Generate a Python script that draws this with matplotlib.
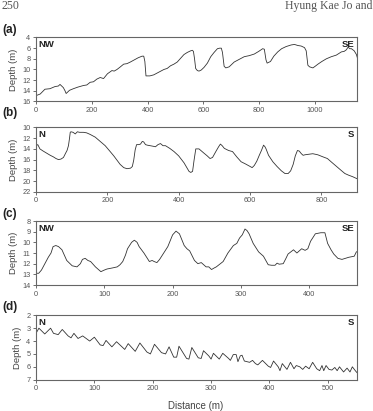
import matplotlib
matplotlib.use('Agg')
import matplotlib.pyplot as plt

# panel (a) profile, NW -> SE
xa = [0, 15, 32, 50, 68, 80, 86, 92, 98, 104, 108, 120, 134, 150, 170, 182, 194, 206, 218, 230, 242,
      256, 272, 280, 290, 300, 314, 326, 338, 352, 366, 380, 386, 390, 394, 408, 422, 440, 458, 470,
      482, 494, 506, 518, 530, 542, 554, 560, 564, 568, 572, 578, 584, 592, 602, 614, 626, 638, 650,
      658, 664, 668, 674, 680, 692, 710, 728, 746, 764, 782, 798, 812, 818, 824, 828, 840, 852, 866,
      880, 896, 914, 926, 938, 950, 962, 968, 974, 980, 992, 1000, 1010, 1024, 1040, 1058, 1076,
      1094, 1104, 1112, 1118, 1124, 1130, 1140, 1148, 1154]
ya = [14.9, 14.6, 13.7, 13.6, 13.2, 13.1, 12.8, 13.1, 13.4, 14.0, 14.5, 13.9, 13.6, 13.3, 13.0, 12.9,
      12.4, 12.3, 11.8, 11.5, 11.7, 10.8, 10.2, 10.3, 10.0, 9.6, 9.0, 8.9, 8.6, 8.2, 7.8, 7.5, 7.5,
      8.5, 11.2, 11.2, 11.0, 10.5, 10.0, 9.8, 9.3, 9.0, 8.6, 7.9, 7.2, 6.8, 6.5, 6.4, 6.6, 8.0, 9.8,
      10.2, 10.3, 10.1, 9.6, 8.8, 7.6, 6.8, 6.1, 6.0, 6.0, 6.8, 9.4, 9.7, 9.5, 8.6, 8.1, 7.6, 7.4,
      7.1, 6.6, 6.1, 6.2, 8.2, 8.8, 8.5, 7.5, 6.7, 6.1, 5.7, 5.4, 5.3, 5.5, 5.6, 5.9, 6.5, 9.2, 9.5,
      9.7, 9.4, 9.0, 8.5, 8.0, 7.6, 7.3, 6.7, 6.6, 6.3, 5.8, 6.1, 6.1, 6.5, 7.2, 8.3]

# panel (b) profile, N -> S
xb = [0, 5, 11, 20, 30, 40, 49, 56, 63, 70, 77, 83, 87, 91, 94, 96, 98, 104, 110, 116, 122, 133, 142,
      152, 166, 180, 194, 208, 218, 227, 236, 246, 255, 265, 270, 274, 278, 282, 288, 293, 298, 302,
      307, 312, 320, 328, 335, 342, 349, 356, 363, 375, 387, 400, 415, 422, 429, 434, 439, 443, 448,
      457, 464, 471, 480, 488, 495, 505, 512, 517, 522, 528, 540, 551, 563, 575, 587, 598, 606, 612,
      619, 626, 632, 638, 642, 645, 652, 664, 676, 688, 698, 707, 714, 721, 727, 733, 738, 744, 749,
      754, 765, 776, 790, 805, 817, 829, 843, 857, 866, 876, 888, 901]
yb = [13.4, 13.2, 14.0, 14.4, 14.8, 15.2, 15.5, 15.8, 16.0, 15.9, 15.6, 14.8, 14.3, 13.4, 12.0, 10.9,
      10.8, 10.9, 11.2, 10.8, 10.9, 10.9, 11.0, 11.3, 11.8, 12.6, 13.4, 14.5, 15.3, 16.1, 16.9, 17.5,
      17.7, 17.6, 17.3, 16.1, 14.2, 13.2, 13.2, 13.1, 12.6, 12.7, 13.2, 13.3, 13.4, 13.5, 13.6, 13.2,
      13.0, 13.4, 13.4, 13.9, 14.5, 15.3, 16.6, 17.4, 18.2, 18.4, 18.2, 16.2, 14.0, 14.0, 14.4, 14.8,
      15.3, 15.8, 15.6, 14.4, 13.6, 13.1, 13.4, 13.9, 14.3, 14.5, 15.5, 16.4, 16.8, 17.2, 17.5, 17.1,
      16.3, 15.2, 14.3, 13.3, 13.6, 14.0, 15.2, 16.4, 17.3, 18.1, 18.6, 18.6, 18.1, 16.9, 15.3, 14.3,
      14.4, 14.9, 15.2, 15.1, 15.0, 14.9, 15.1, 15.5, 15.8, 16.5, 17.3, 18.1, 18.6, 18.9, 19.2, 19.6]

# panel (c) profile, NW -> SE
xc = [0, 4, 8, 13, 18, 22, 25, 29, 33, 38, 45, 53, 60, 65, 68, 72, 76, 80, 87, 95, 100, 104, 112, 119,
      123, 127, 131, 134, 140, 144, 148, 151, 158, 166, 170, 173, 177, 181, 185, 193, 200, 205, 210,
      217, 221, 225, 232, 237, 242, 249, 253, 257, 261, 264, 274, 281, 289, 294, 298, 302, 306, 309,
      312, 318, 326, 333, 340, 345, 350, 353, 356, 362, 366, 369, 373, 377, 382, 389, 394, 398, 402,
      409, 417, 423, 427, 432, 436, 442, 448, 453, 458, 466, 469, 473]
yc = [12.9, 12.9, 12.6, 12.0, 11.4, 11.0, 10.4, 10.3, 10.4, 10.7, 11.7, 12.2, 12.3, 12.0, 11.6, 11.5,
      11.7, 11.8, 12.3, 12.75, 12.6, 12.5, 12.4, 12.3, 12.1, 11.8, 11.2, 10.6, 10.0, 9.8, 10.0, 10.4,
      11.0, 11.8, 11.7, 11.8, 11.9, 11.6, 11.2, 10.4, 9.3, 8.95, 9.2, 10.3, 10.6, 10.8, 11.7, 12.0,
      11.9, 12.3, 12.3, 12.55, 12.4, 12.3, 11.8, 11.0, 10.3, 10.1, 9.6, 9.3, 8.75, 8.9, 9.2, 10.1,
      10.9, 11.3, 12.1, 12.15, 12.15, 11.95, 12.05, 12.0, 11.5, 11.1, 10.9, 10.7, 11.0, 10.6, 10.75,
      10.6, 9.9, 9.2, 9.1, 9.1, 10.1, 10.7, 11.1, 11.5, 11.6, 11.5, 11.4, 11.3, 10.9, 10.8]

# panel (d) profile, N -> S (sand waves)
xd = [0, 5, 15, 25, 30, 38, 45, 55, 60, 65, 72, 80, 92, 100, 110, 115, 120, 130, 138, 152, 158, 170,
      178, 190, 196, 203, 215, 222, 228, 236, 241, 245, 258, 262, 267, 278, 283, 287, 296, 300, 304,
      314, 320, 330, 333, 338, 343, 346, 350, 353, 357, 366, 371, 376, 380, 388, 398, 402, 407, 415,
      418, 422, 430, 436, 442, 446, 452, 457, 462, 468, 474, 481, 486, 490, 493, 497, 502, 507, 512,
      516, 520, 527, 533, 538, 542, 548, 550]
yd = [3.4, 3.0, 3.45, 3.0, 3.4, 3.5, 3.1, 3.6, 3.75, 3.4, 3.8, 3.6, 4.0, 3.7, 4.3, 4.35, 3.95, 4.45,
      4.05, 4.65, 4.2, 4.8, 4.15, 4.85, 5.0, 4.25, 4.9, 5.0, 4.45, 5.25, 5.25, 4.4, 5.35, 5.4, 4.5, 5.3,
      5.35, 4.75, 5.15, 5.4, 4.95, 5.4, 4.95, 5.35, 5.5, 5.05, 5.05, 5.6, 5.15, 5.1, 5.55, 5.65, 5.5,
      5.75, 5.85, 5.5, 5.95, 6.05, 5.55, 6.0, 6.3, 5.75, 6.2, 5.65, 6.15, 5.9, 6.0, 6.2, 5.95, 6.15,
      5.65, 6.15, 6.3, 5.9, 6.3, 5.9, 6.2, 6.25, 6.05, 6.3, 6.0, 6.4, 6.1, 6.4, 6.0, 6.35, 6.45]

panels = [
    ('(a)', xa, ya, 1150, [0, 200, 400, 600, 800, 1000], (4, 16), [4, 6, 8, 10, 12, 14, 16], ('NW', 'SE')),
    ('(b)', xb, yb, 900, [0, 200, 400, 600, 800], (10, 22), [10, 12, 14, 16, 18, 20, 22], ('N', 'S')),
    ('(c)', xc, yc, 470, [0, 100, 200, 300, 400], (8, 14), [8, 9, 10, 11, 12, 13, 14], ('NW', 'SE')),
    ('(d)', xd, yd, 550, [0, 100, 200, 300, 400, 500], (2, 7), [2, 3, 4, 5, 6, 7], ('N', 'S')),
]

W, H = 373, 411
fig = plt.figure(figsize=(W / 100, H / 100), dpi=100)
plt.rcParams['font.family'] = ['Liberation Sans', 'DejaVu Sans']

# pixel boxes (top, bottom) of each panel
boxes = [(37.5, 101.5), (127.5, 191.7), (221, 285), (315.3, 379.7)]
letter_y = [30, 113, 214, 307]
left, right = 36, 357

for (lab, x, y, xmax, xt, ylim, yt, ends), (top, bot), ly in zip(panels, boxes, letter_y):
    ax = fig.add_axes([left / W, 1 - bot / H, (right - left) / W, (bot - top) / H])
    ax.plot(x, y, color='#333333', lw=0.6)
    ax.set_xlim(0, xmax)
    ax.set_ylim(ylim[1], ylim[0])
    ax.set_xticks(xt)
    ax.set_yticks(yt)
    ax.tick_params(labelsize=5.3, colors='#555555', length=2, width=0.6, pad=2)
    for s in ax.spines.values():
        s.set_color('#666666')
        s.set_linewidth(0.8)
    ax.set_ylabel('Depth (m)', fontsize=6.8, color='#444444', labelpad=3)
    ax.text(0.008, 0.96, ends[0], transform=ax.transAxes, ha='left', va='top',
            fontsize=6.8, fontweight='bold', color='#222222')
    ax.text(0.992, 0.96, ends[1], transform=ax.transAxes, ha='right', va='top',
            fontsize=6.8, fontweight='bold', color='#222222')
    fig.text(2 / W, 1 - ly / H, lab, ha='left', va='center', fontsize=8.5,
             fontweight='bold', color='#222222')

fig.text(196 / W, 1 - 406 / H, 'Distance (m)', ha='center', va='center', fontsize=7, color='#444444')

# page header
fig.text(1 / W, 1 - 6 / H, '250', ha='left', va='center', fontsize=8.5,
         family='Liberation Serif', color='#555555')
fig.text(372 / W, 1 - 6 / H, 'Hyung Kae Jo and', ha='right', va='center', fontsize=8.5,
         family='Liberation Serif', color='#555555')

fig.savefig('out.png', dpi=100)
